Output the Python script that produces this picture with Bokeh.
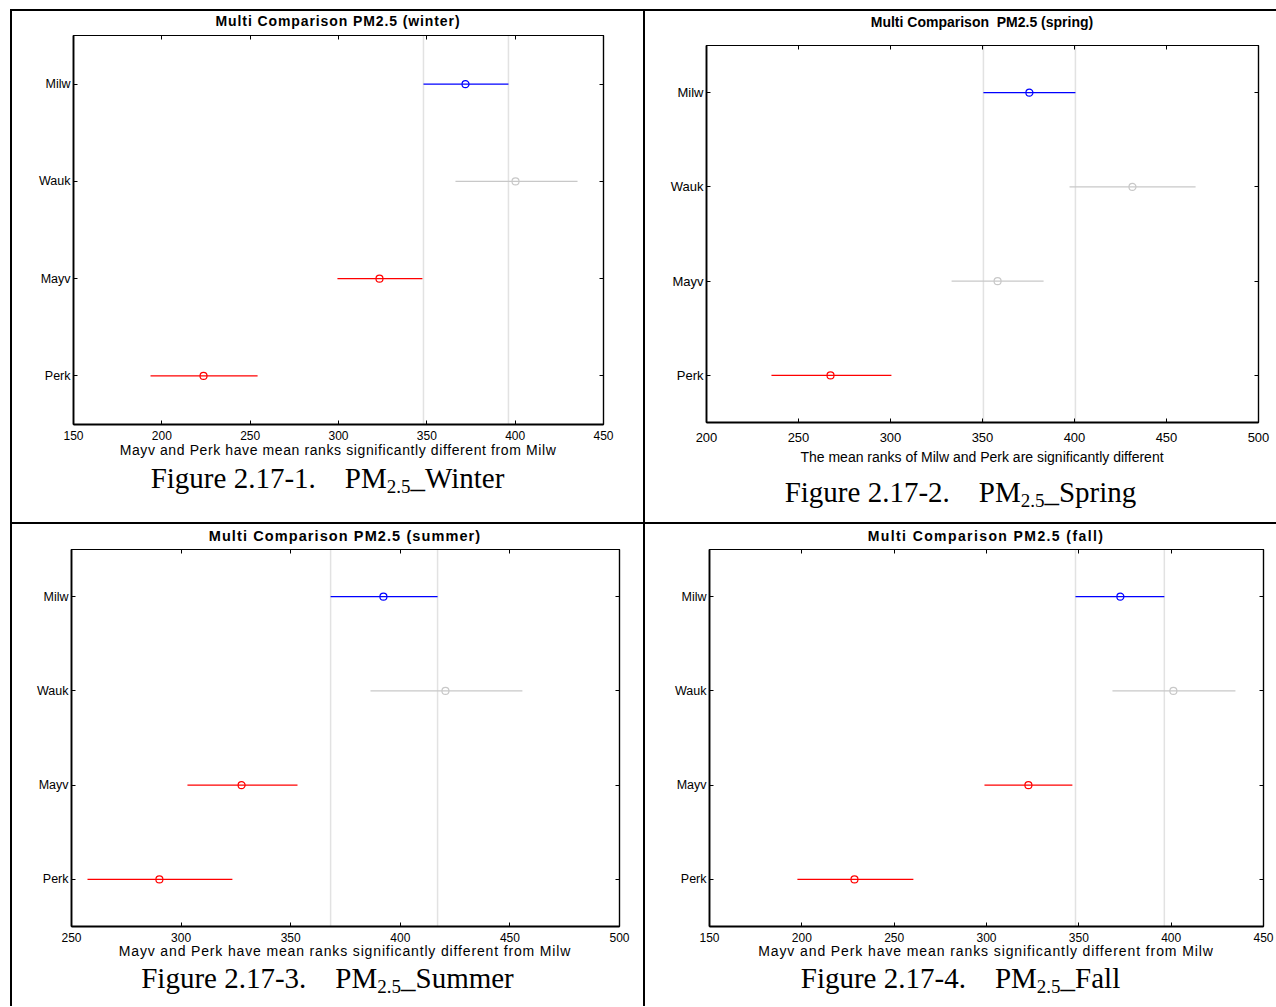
from bokeh.plotting import figure
from bokeh.models import (FactorRange, Range1d, FixedTicker, LinearAxis, CategoricalAxis,
                          Span, Div, GridBox, ColumnDataSource)
from bokeh.layouts import column
from bokeh.embed import file_html
from bokeh.resources import INLINE

# ---------------- data ----------------
sites = ["Milw", "Wauk", "Mayv", "Perk"]

winter_mean = [371.9, 400.2, 323.2, 223.6]
winter_lo = [348.1, 366.2, 299.4, 193.6]
winter_hi = [396.2, 435.3, 347.5, 254.2]
winter_sig = ["ref", "ns", "sig", "sig"]
winter_ticks = [150, 200, 250, 300, 350, 400, 450]

spring_mean = [375.5, 431.5, 358.2, 267.4]
spring_lo = [350.5, 397.3, 333.2, 235.3]
spring_hi = [400.5, 465.8, 383.2, 300.5]
spring_sig = ["ref", "ns", "ns", "sig"]
spring_ticks = [200, 250, 300, 350, 400, 450, 500]

summer_mean = [392.3, 420.6, 327.6, 290.1]
summer_lo = [368.2, 386.4, 302.9, 257.3]
summer_hi = [417.0, 455.7, 353.1, 323.4]
summer_sig = ["ref", "ns", "sig", "sig"]
summer_ticks = [250, 300, 350, 400, 450, 500]

fall_mean = [372.5, 401.2, 322.7, 228.5]
fall_lo = [348.2, 368.2, 298.9, 197.6]
fall_hi = [396.3, 434.8, 346.5, 260.4]
fall_sig = ["ref", "ns", "sig", "sig"]
fall_ticks = [150, 200, 250, 300, 350, 400, 450]

titles = ["Multi Comparison PM2.5 (winter)", "Multi Comparison&nbsp; PM2.5 (spring)",
          "Multi Comparison PM2.5 (summer)", "Multi Comparison PM2.5 (fall)"]
xlabels = ["Mayv and Perk have mean ranks significantly different from Milw",
           "The mean ranks of Milw and Perk are significantly different",
           "Mayv and Perk have mean ranks significantly different from Milw",
           "Mayv and Perk have mean ranks significantly different from Milw"]
captions = [("Figure 2.17-1.", "Winter"), ("Figure 2.17-2.", "Spring"),
            ("Figure 2.17-3.", "Summer"), ("Figure 2.17-4.", "Fall")]

COLORS = {"ref": "#0000ff", "ns": "#c8c8c8", "sig": "#ff0000"}
SANS = "Liberation Sans"


def make_cell(title, xlabel, caption, mean, lo, hi, sig, ticks, g):
    cw = 631
    tdiv = Div(text=title, width=g["fw"], height=g["th"], margin=(0, 0, 0, g["l"]),
               styles={"text-align": "center", "font-weight": "bold", "font-family": SANS,
                       "font-size": g["tfs"], "letter-spacing": g["tls"],
                       "line-height": "%dpx" % g["th"], "color": "black", "white-space": "nowrap"})
    p = figure(x_range=Range1d(ticks[0], ticks[-1]),
               y_range=FactorRange(factors=sites[::-1]),
               frame_width=g["fw"], frame_height=g["fh"],
               min_border_left=g["l"], min_border_right=cw - g["l"] - g["fw"],
               min_border_top=g["t"], min_border_bottom=g["b"],
               output_backend="svg", toolbar_location=None, tools="",
               background_fill_color="white", border_fill_color="white")
    p.grid.visible = False
    p.outline_line_color = "black"
    p.outline_line_width = 1.2

    for v in (lo[0], hi[0]):
        p.add_layout(Span(location=v, dimension="height", line_color="#e2e2e2",
                          line_width=1.5, level="underlay"))

    src = ColumnDataSource(dict(y=sites, x0=lo, x1=hi, m=mean, c=[COLORS[s] for s in sig]))
    p.segment(x0="x0", y0="y", x1="x1", y1="y", source=src, line_color="c", line_width=1.2)
    p.scatter(x="m", y="y", source=src, marker="circle", size=7, fill_color=None,
              line_color="c", line_width=1.2)

    xa = p.xaxis[0]
    xa.ticker = FixedTicker(ticks=ticks)
    xa.major_tick_in = 4
    xa.major_tick_out = 0
    xa.minor_tick_line_color = None
    xa.axis_line_width = 1.8
    xa.major_label_standoff = g["ls"]
    xa.major_label_text_font = SANS
    xa.major_label_text_font_size = g["xfs"]
    xa.major_label_text_color = "black"

    ya = p.yaxis[0]
    ya.major_tick_in = 4
    ya.major_tick_out = 0
    ya.axis_line_width = 1.8
    ya.major_label_standoff = 3
    ya.major_label_text_font = SANS
    ya.major_label_text_font_size = g["yfs"]
    ya.major_label_text_color = "black"

    top = LinearAxis(ticker=FixedTicker(ticks=ticks), major_tick_in=4, major_tick_out=0,
                     minor_tick_line_color=None, major_label_text_font_size="1px",
                     major_label_text_color=None, major_label_standoff=0, axis_line_width=1.2)
    p.add_layout(top, "above")
    right = CategoricalAxis(major_tick_in=4, major_tick_out=0, major_label_text_font_size="1px",
                            major_label_text_color=None, major_label_standoff=0,
                            axis_line_width=1.2)
    p.add_layout(right, "right")

    fig_h = g["t"] + g["fh"] + g["b"]
    bottom_h = g["ch"] - g["th"] - fig_h
    cap_html = ('%s&nbsp;&nbsp;&nbsp;&nbsp;PM<span style="font-size:19px;'
                'position:relative;top:5px">2.5</span>_%s' % caption)
    btext = ('<div style="margin-left:%dpx;width:%dpx;text-align:center;font-family:%s;'
             'font-size:14px;letter-spacing:%s;line-height:%dpx;white-space:nowrap;color:black">%s</div>'
             '<div style="width:%dpx;text-align:center;font-family:Liberation Serif;font-size:29px;'
             'line-height:%dpx;white-space:nowrap;color:black">%s</div>'
             % (g["l"], g["fw"], SANS, g["xls"], g["xlh"], xlabel, cw, g["clh"], cap_html))
    bdiv = Div(text=btext, width=cw, height=bottom_h, margin=(0, 0, 0, 0))
    return column(tdiv, p, bdiv, width=cw, styles={"background-color": "white"})


g1 = dict(ch=511, th=20, l=61, fw=530, t=4, fh=389, b=24, ls=6, xlh=4, clh=52,
          tfs="14px", tls="0.9px", xfs="12px", yfs="12.5px", xls="0.6px")
g2 = dict(ch=511, th=22, l=61, fw=552, t=12, fh=377, b=28, ls=10, xlh=14, clh=56,
          tfs="14px", tls="0px", xfs="13px", yfs="13px", xls="0px")
g3 = dict(ch=482, th=24, l=59, fw=548, t=1, fh=377, b=24, ls=6, xlh=2, clh=52,
          tfs="14.5px", tls="1.1px", xfs="12px", yfs="12.5px", xls="0.85px")
g4 = dict(ch=482, th=24, l=64, fw=554, t=1, fh=377, b=24, ls=6, xlh=2, clh=52,
          tfs="14px", tls="1.4px", xfs="12px", yfs="12.5px", xls="0.9px")

c1 = make_cell(titles[0], xlabels[0], captions[0], winter_mean, winter_lo, winter_hi, winter_sig,
               winter_ticks, g1)
c2 = make_cell(titles[1], xlabels[1], captions[1], spring_mean, spring_lo, spring_hi, spring_sig,
               spring_ticks, g2)
c3 = make_cell(titles[2], xlabels[2], captions[2], summer_mean, summer_lo, summer_hi, summer_sig,
               summer_ticks, g3)
c4 = make_cell(titles[3], xlabels[3], captions[3], fall_mean, fall_lo, fall_hi, fall_sig,
               fall_ticks, g4)

grid = GridBox(children=[(c1, 0, 0), (c2, 0, 1), (c3, 1, 0), (c4, 1, 1)], spacing=2,
               margin=(9, 0, 0, 10),
               styles={"background-color": "black", "padding": "2px 0px 0px 2px"})

open("out.html", "w").write(file_html(grid, INLINE))
